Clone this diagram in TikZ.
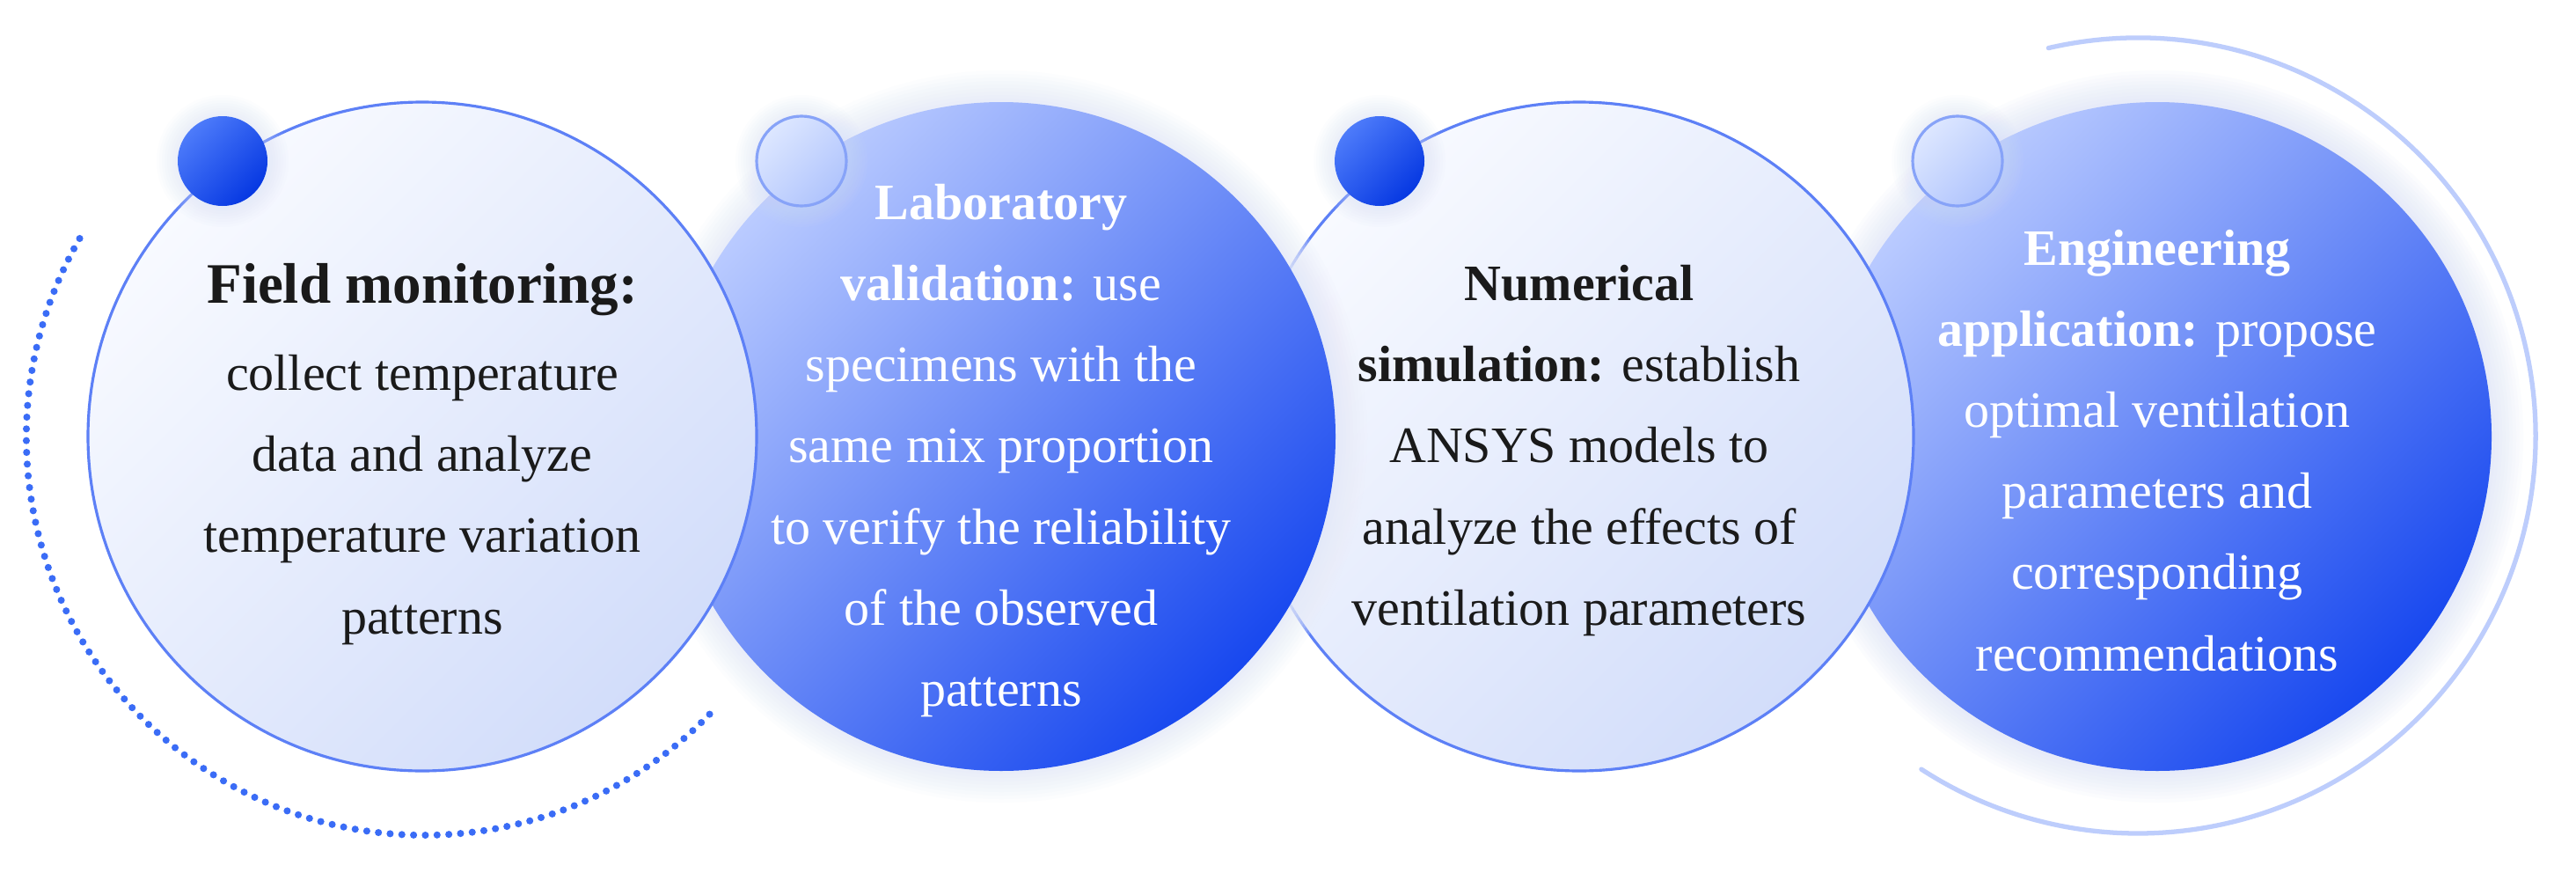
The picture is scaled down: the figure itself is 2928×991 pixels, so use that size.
\documentclass[tikz,border=0pt]{standalone}
\usepackage{fontspec}
\setmainfont{Liberation Serif}
\definecolor{lineblue}{HTML}{5D80F6}
\definecolor{lcA}{HTML}{F8FAFF}
\definecolor{lcB}{HTML}{D2DDFA}
\definecolor{dcA}{HTML}{BACBFF}
\definecolor{dcB}{HTML}{1848EF}
\definecolor{ddA}{HTML}{4D7BFA}
\definecolor{ddB}{HTML}{0638E2}
\definecolor{dlA}{HTML}{DDE7FF}
\definecolor{dlB}{HTML}{B0C4FD}
\definecolor{dlline}{HTML}{87A3F8}
\definecolor{dotarcc}{HTML}{3A6CF6}
\definecolor{rarcc}{HTML}{BDCDFC}
\definecolor{glowc}{HTML}{D3DDF9}
\definecolor{txtdark}{HTML}{1A1A1A}
\begin{document}
\begin{tikzpicture}[x=0.1mm,y=0.1mm,
  lightcirc/.style={circle, minimum size=76mm, inner sep=0pt, draw=lineblue, line width=0.9pt,
    top color=lcA, bottom color=lcB, shading angle=45},
  darkcirc/.style={circle, minimum size=76mm, inner sep=0pt,
    top color=dcA, bottom color=dcB, shading angle=45},
  darkdot/.style={circle, minimum size=10.2mm, inner sep=0pt,
    top color=ddA, bottom color=ddB, shading angle=45},
  lightdot/.style={circle, minimum size=10.2mm, inner sep=0pt, draw=dlline, line width=0.9pt,
    top color=dlA, bottom color=dlB, shading angle=45},
  txt/.style={align=center, font=\fontsize{16.5}{26.2}\selectfont},
  dotarc/.style={draw=dotarcc, line width=2.3pt, line cap=round, dash pattern=on 0pt off 3.8pt},
  rarc/.style={draw=rarcc, line width=1.5pt, line cap=round}
]
\useasboundingbox (0,0) rectangle (2928,991);
\fill[white] (0,0) rectangle (2928,991);

% centres
\coordinate (p1) at (480,495);
\coordinate (p2) at (1138,495);
\coordinate (p3) at (1795,495);
\coordinate (p4) at (2452,495);

% decorative arcs
\draw[dotarc] (482,494) ++(150:452) arc[start angle=150, end angle=317, radius=452];
\draw[rarc] (2430,496) ++(103:452) arc[start angle=103, end angle=-123, radius=452];

% circle 4 with soft glow
\foreach \d in {4,8,...,36}{
  \fill[glowc, opacity=0.07] (p4) circle[radius=380+\d];
}
\node[darkcirc] (c4) at (p4) {};
% circle 3
\node[lightcirc] (c3) at (p3) {};
% circle 2 with soft glow
\foreach \d in {4,8,...,36}{
  \fill[white, opacity=0.12] (p2) circle[radius=380+\d];
}
\foreach \d in {4,8,...,36}{
  \fill[glowc, opacity=0.06] (p2) circle[radius=380+\d];
}
\node[darkcirc] (c2) at (p2) {};
% circle 1
\node[lightcirc] (c1) at (p1) {};

% dots with soft halo
\foreach \x in {253,911,1568,2225}{
  \foreach \d in {3,6,...,24}{
    \fill[glowc, opacity=0.06] (\x,808) circle[radius=51+\d];
  }
}
\node[darkdot] (d1) at (253,808) {};
\node[lightdot] (d2) at (911,808) {};
\node[darkdot] (d3) at (1568,808) {};
\node[lightdot] (d4) at (2225,808) {};

% texts
\node[txt, text=txtdark] (t1) at ([yshift=-2.0mm]c1.center)
  {{\fontsize{18.5}{26.2}\selectfont\textbf{Field monitoring:}}\\[2pt] collect temperature\\ data and analyze\\ temperature variation\\ patterns};
\node[txt, text=white] (t2) at ([yshift=-1.6mm]c2.center)
  {\textbf{Laboratory}\\ \textbf{validation:} use\\ specimens with the\\ same mix proportion\\ to verify the reliability\\ of the observed\\ patterns};
\node[txt, text=txtdark] (t3) at ([yshift=-1.6mm]c3.center)
  {\textbf{Numerical}\\ \textbf{simulation:} establish\\ ANSYS models to\\ analyze the effects of\\ ventilation parameters};
\node[txt, text=white] (t4) at ([yshift=-1.6mm]c4.center)
  {\textbf{Engineering}\\ \textbf{application:} propose\\ optimal ventilation\\ parameters and\\ corresponding\\ recommendations};
\end{tikzpicture}
\end{document}
